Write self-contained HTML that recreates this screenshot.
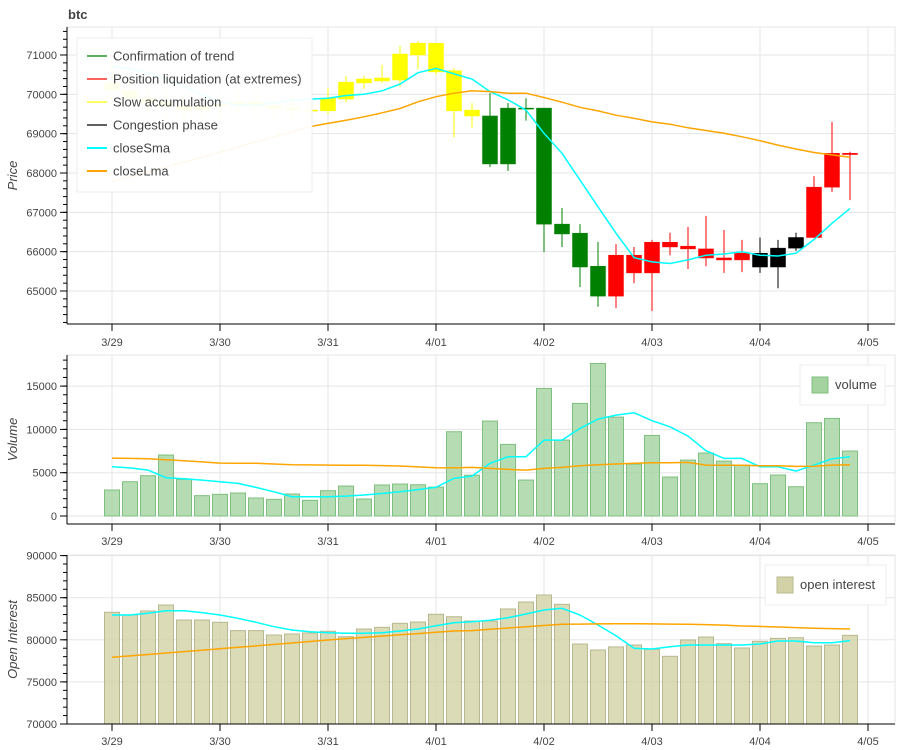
<!DOCTYPE html>
<html><head><meta charset="utf-8">
<style>
html,body{margin:0;padding:0;background:#fff;}
svg{display:block;font-family:"Liberation Sans",sans-serif;}
</style></head>
<body>
<svg id="chart" width="900" height="750" viewBox="0 0 900 750"></svg>
<script>
// ---- data ----
const xLabels = ["3/29","3/30","3/31","4/01","4/02","4/03","4/04","4/05"];
const priceTicks = [65000,66000,67000,68000,69000,70000,71000];
const volTicks = [0,5000,10000,15000];
const oiTicks = [70000,75000,80000,85000,90000];
const phase = ["y","y","y","y","y","y","y","y","y","y","y","y","y","y","y","y","y","y","y","y","y","g","g","g","g","g","g","g","r","r","r","r","r","r","r","r","k","k","k","r","r","r"];
const openP = [70300,70100,69900,69800,69700,69600,69700,69750,69800,69700,69650,69600,69580,69880,70290,70340,70365,71000,71300,70600,69600,69450,68230,69650,69650,66700,66470,65630,64870,65460,65460,66120,66070,65840,65790,65790,65610,65610,66090,66360,67640,68500];
const closeP= [70100,69900,69800,69700,69600,69700,69750,69800,69700,69650,69600,69580,69900,70310,70390,70415,71025,71300,70570,69580,69450,68230,69650,69650,66700,66450,65610,64870,65910,65910,66240,66240,66140,66070,65840,65960,65960,66090,66360,67640,68500,68470];
const highP = [70800,70400,70200,70100,70000,69900,70000,70100,70100,70000,69900,69800,70160,70470,70470,70750,71230,71360,71300,70670,69780,70030,69780,69900,69650,67110,66700,66250,66190,66120,66300,66480,66630,66910,66550,66300,66360,66300,66480,67920,69300,68540];
const lowP  = [69800,69700,69500,69400,69300,69300,69400,69500,69400,69400,69300,69300,69500,69800,70140,70290,70200,70640,70500,68910,69150,68150,68050,69330,65990,66120,65100,64600,64570,65200,64490,65910,65560,65630,65460,65480,65460,65070,66020,66360,67520,67310];
const priceSma = [70700,70650,70550,70400,70200,70000,69800,69720,69720,69780,69850,69880,69900,69970,70000,70090,70260,70550,70660,70520,70390,70070,69860,69600,69010,68500,67820,67140,66470,65850,65740,65700,65790,65910,65940,66000,65910,65890,65960,66310,66720,67100];
const priceLma = [67780,67900,68020,68150,68280,68400,68530,68660,68790,68920,69050,69180,69260,69340,69430,69530,69640,69810,69940,70030,70090,70070,70030,70030,69920,69800,69670,69580,69470,69390,69300,69240,69150,69080,69010,68920,68820,68710,68610,68520,68460,68400];
const volume = [3000,3960,4650,7040,4230,2350,2500,2650,2080,1920,2540,1810,2920,3460,1960,3580,3690,3610,3340,9730,4710,10960,8270,4150,14730,8770,13000,17610,11420,6000,9300,4500,6460,7270,6340,5880,3730,4730,3380,10770,11270,7500];
const volSma = [5690,5550,5300,4420,4300,4150,3950,3770,3300,2800,2230,2230,2230,2300,2420,2600,2800,3050,3310,4350,4610,6080,6840,6840,8770,8770,10110,11190,11650,11920,11000,10300,9230,7540,6650,6650,5690,5690,5190,5880,6610,6840];
const volLma = [6690,6650,6610,6500,6380,6250,6110,6100,6080,6000,5920,5900,5880,5870,5860,5820,5770,5670,5570,5560,5610,5500,5380,5300,5500,5610,5800,5920,6000,6080,6150,6150,6190,5880,5850,5850,5800,5800,5730,5750,5880,5920];
const openInterest = [83270,82950,83420,84130,82350,82350,82080,81090,81090,80570,80690,80810,81010,80370,81280,81480,81960,82110,83030,82740,82230,82230,83660,84490,85320,84210,79500,78790,79150,79380,78870,78040,79980,80330,79540,79030,79820,80170,80250,79260,79380,80530];
const oiSma = [82950,82950,83150,83460,83460,83230,82950,82550,82080,81560,81160,80960,80840,80770,80770,80840,81050,81280,81680,82030,82150,82310,82620,83060,83540,83740,82950,81760,80490,78990,78910,79180,79380,79380,79380,79380,79500,79860,79860,79660,79660,79900];
const oiLma = [77920,78090,78260,78430,78600,78770,78940,79110,79280,79450,79620,79800,79980,80140,80290,80440,80590,80740,80900,81050,81090,81250,81400,81560,81700,81840,81870,81890,81910,81900,81890,81870,81840,81800,81740,81640,81590,81520,81450,81380,81330,81280];

// ---- layout ----
const NS = "http://www.w3.org/2000/svg";
const svg = document.getElementById("chart");
const PL = 67, PR = 895;
const dayPx = 108, x0 = 112;
function xDay(d){ return x0 + d*dayPx; }
function xBar(i){ return x0 + i*dayPx/6; }
const panels = {
  price:{top:27,bottom:324,v0:65000,y0:291,scale:236/6000},
  vol:{top:355,bottom:524,v0:0,y0:516,scale:43.3/5000},
  oi:{top:555,bottom:724,v0:70000,y0:724,scale:42.1/5000}
};
function yOf(p,v){ return p.y0 - (v-p.v0)*p.scale; }
const colors = {g:"#008000",r:"#ff0000",y:"#ffff00",k:"#000000"};

function mk(tag, attrs, parent){
  const e = document.createElementNS(NS, tag);
  for (const k in attrs) e.setAttribute(k, attrs[k]);
  (parent||svg).appendChild(e);
  return e;
}

function drawFrame(p, name, ticks, minorStep, title){
  const g = mk("g",{});
  
  
  mk("rect",{x:PL,y:p.top,width:PR-PL,height:p.bottom-p.top,fill:"#fff",stroke:"#e5e5e5"},g);
  // vertical grid
  xLabels.forEach((l,d)=>{
    mk("line",{x1:xDay(d),x2:xDay(d),y1:p.top,y2:p.bottom,stroke:"#e5e5e5"},g);
  });
  ticks.forEach(t=>{
    const y = yOf(p,t);
    mk("line",{x1:PL,x2:PR,y1:y,y2:y,stroke:"#e5e5e5"},g);
  });
  return g;
}
function drawAxes(p, name, ticks, minorStep, title, lblY){
  const g = mk("g",{});
  
  
  mk("line",{x1:PL,x2:PL,y1:p.top,y2:p.bottom,stroke:"#000"},g);
  mk("line",{x1:PL,x2:PR,y1:p.bottom,y2:p.bottom,stroke:"#000"},g);
  // minor ticks
  const vTop = p.v0 + (p.y0 - p.top)/p.scale;
  const vBot = p.v0 + (p.y0 - p.bottom)/p.scale;
  for (let v = Math.ceil(vBot/minorStep)*minorStep; v <= vTop; v += minorStep){
    const y = yOf(p,v);
    mk("line",{x1:PL-4,x2:PL,y1:y,y2:y,stroke:"#000"},g);
  }
  ticks.forEach(t=>{
    const y = yOf(p,t);
    mk("line",{x1:PL-7,x2:PL,y1:y,y2:y,stroke:"#000"},g);
    const tx = mk("text",{x:PL-10,y:y+4,"text-anchor":"end","font-size":"11",fill:"#444"},g);
    tx.textContent = t;
    
    
  });
  xLabels.forEach((l,d)=>{
    const x = xDay(d);
    mk("line",{x1:x,x2:x,y1:p.bottom,y2:p.bottom+7,stroke:"#000"},g);
    const tx = mk("text",{x:x,y:lblY,"text-anchor":"middle","font-size":"11",fill:"#444"},g);
    tx.textContent = l;
    
    
  });
  const cy = (p.top+p.bottom)/2;
  const tt = mk("text",{x:17,y:cy,transform:`rotate(-90 17 ${cy})`,"text-anchor":"middle","font-size":"13","font-style":"italic",fill:"#444"},g);
  tt.textContent = title;
  
  
}
function drawLine(p, arr, color, name){
  const d = arr.map((v,i)=>(i?"L":"M")+xBar(i).toFixed(1)+","+yOf(p,v).toFixed(1)).join(" ");
  const e = mk("path",{d:d,fill:"none",stroke:color,"stroke-width":"1.5"});
  
  
}
function drawBars(p, arr, fill, stroke, name){
  const g = mk("g",{});
  
  
  arr.forEach((v,i)=>{
    const y = yOf(p,v);
    const b = mk("rect",{x:xBar(i)-7.5,y:y,width:15,height:p.y0-y,fill:fill,stroke:stroke,"fill-opacity":"0.8"},g);
    
    
  });
}

// ---- price panel ----
const P = panels.price;
drawFrame(P,"price",priceTicks);
const cg = mk("g",{});


openP.forEach((o,i)=>{
  const c = colors[phase[i]];
  const x = xBar(i);
  mk("line",{x1:x,x2:x,y1:yOf(P,highP[i]),y2:yOf(P,lowP[i]),stroke:c},cg);
  const yt = yOf(P,Math.max(o,closeP[i])), yb = yOf(P,Math.min(o,closeP[i]));
  const r = mk("rect",{x:x-7.5,y:yt,width:15,height:Math.max(1,yb-yt),fill:c,stroke:c,"stroke-width":"0.5"},cg);
  
  
});
drawLine(P,priceSma,"#00ffff","price-close-sma");
drawLine(P,priceLma,"#ffa500","price-close-lma");
drawAxes(P,"price",priceTicks,200,"Price",346);
const ttl = mk("text",{x:68,y:19,"font-size":"13","font-weight":"bold",fill:"#444"});
ttl.textContent = "btc";



// price legend
const lg = mk("g",{});


mk("rect",{x:77,y:38,width:235,height:154,fill:"#fff","fill-opacity":"0.93",stroke:"#eee"},lg);
const legItems = [["Confirmation of trend","#008000"],["Position liquidation (at extremes)","#ff0000"],["Slow accumulation","#ffff00"],["Congestion phase","#000000"],["closeSma","#00ffff"],["closeLma","#ffa500"]];
legItems.forEach((it,k)=>{
  const y = 56 + k*23;
  const eg = mk("g",{},lg);
  
  
  mk("line",{x1:87,x2:107,y1:y,y2:y,stroke:it[1],"stroke-width":(k>3?2:1.2)},eg);
  const t = mk("text",{x:113,y:y+4.5,"font-size":"13",fill:"#444"},eg);
  t.textContent = it[0];
});

// ---- volume panel ----
const V = panels.vol;
drawFrame(V,"volume",volTicks);
drawBars(V,volume,"#a4d3a0","#7fbf7f","volume");
drawLine(V,volSma,"#00ffff","volume-sma");
drawLine(V,volLma,"#ffa500","volume-lma");
drawAxes(V,"volume",volTicks,1000,"Volume",545);
const vl = mk("g",{});


mk("rect",{x:800,y:365,width:85,height:40,fill:"#fff",stroke:"#eee"},vl);
mk("rect",{x:812,y:377,width:16,height:16,fill:"#a4d3a0",stroke:"#7fbf7f"},vl);
const vt = mk("text",{x:835,y:389,"font-size":"13",fill:"#444"},vl);
vt.textContent = "volume";

// ---- open interest panel ----
const O = panels.oi;
drawFrame(O,"open-interest",oiTicks);
drawBars(O,openInterest,"#d2d2a6","#b8b890","open-interest");
drawLine(O,oiSma,"#00ffff","open-interest-sma");
drawLine(O,oiLma,"#ffa500","open-interest-lma");
drawAxes(O,"open-interest",oiTicks,1000,"Open Interest",745);
const ol = mk("g",{});


mk("rect",{x:765,y:565,width:121,height:40,fill:"#fff",stroke:"#eee"},ol);
mk("rect",{x:777,y:577,width:16,height:16,fill:"#d2d2a6",stroke:"#b8b890"},ol);
const ot = mk("text",{x:800,y:589,"font-size":"13",fill:"#444"},ol);
ot.textContent = "open interest";
</script>
</body></html>
